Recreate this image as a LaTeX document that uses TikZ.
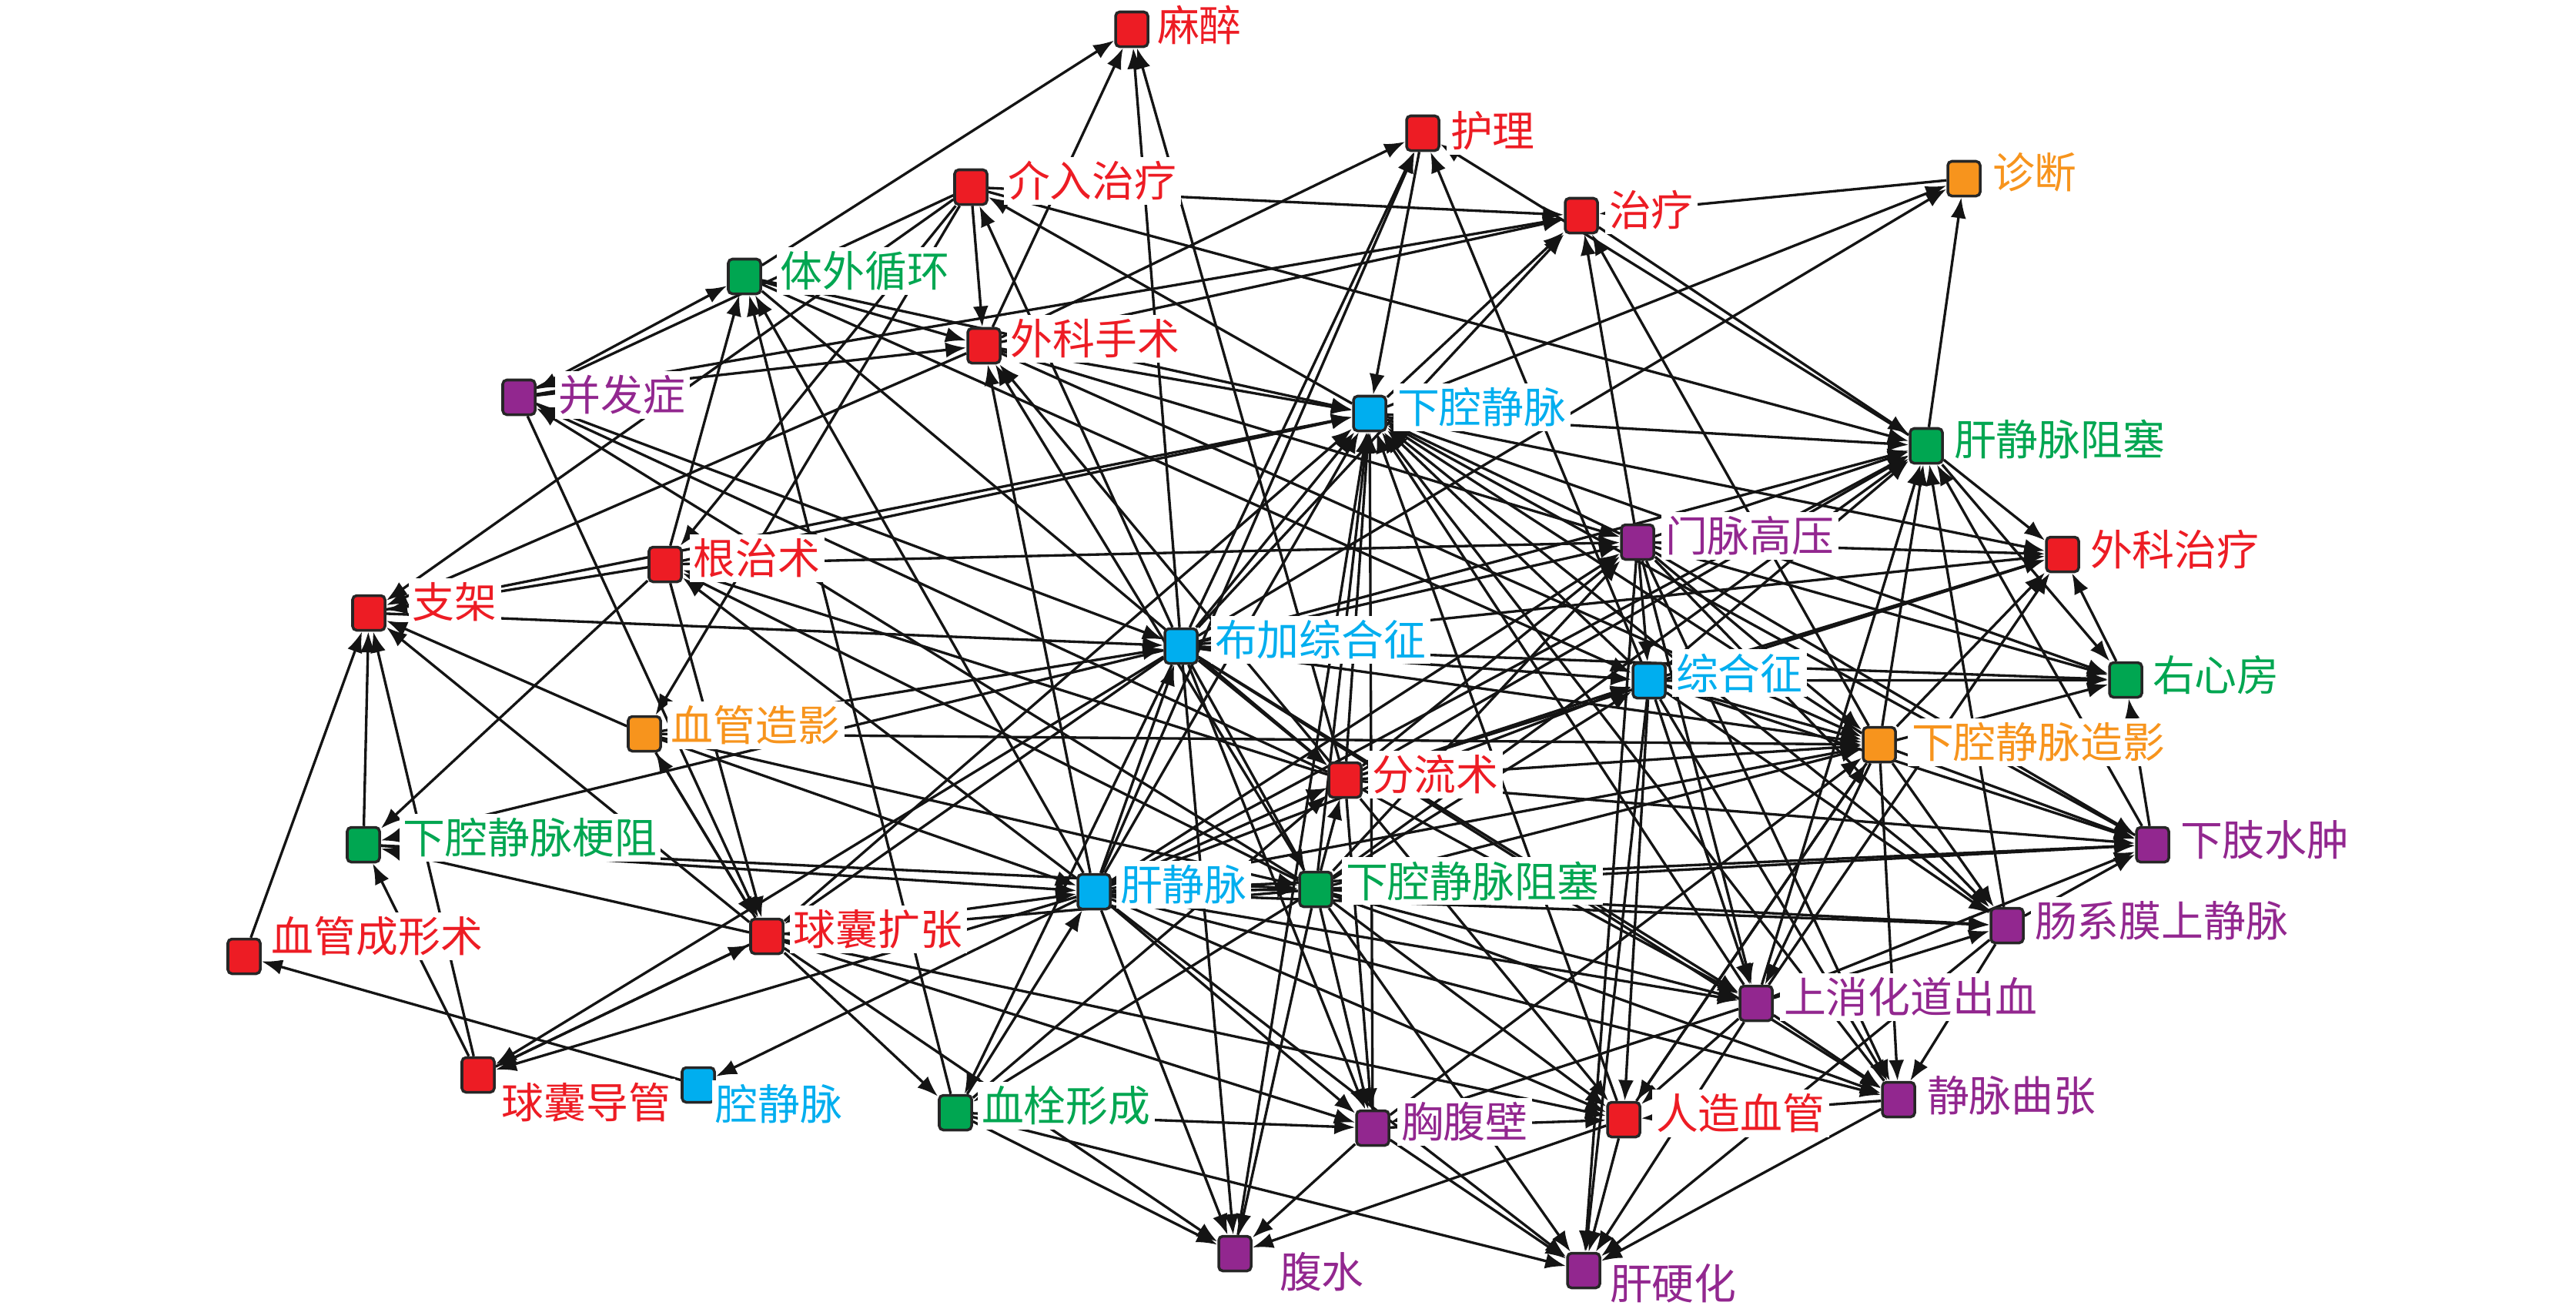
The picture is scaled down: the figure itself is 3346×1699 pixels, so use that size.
\documentclass[tikz,border=0pt]{standalone}
\usepackage{fontspec}
\newfontfamily\cjk{Noto Sans CJK SC}
\usetikzlibrary{arrows.meta}
\pgfdeclarelayer{edgelayer}
\pgfsetlayers{edgelayer,main}
\definecolor{cred}{RGB}{237,28,36}
\definecolor{cgreen}{RGB}{0,166,81}
\definecolor{cblue}{RGB}{0,174,239}
\definecolor{corange}{RGB}{247,148,29}
\definecolor{cpurple}{RGB}{146,39,143}
\newcommand\mkn[7]{%
  \node[box,fill=#4] (#1) at (#2,#3) {};
  \node[lab,text=#4] (#1l) at ({#2+#6-6},{#3+#7}) {#5};}
\begin{document}
\begin{tikzpicture}[x=0.01cm,y=-0.01cm,
  box/.style={draw=black!85,line width=1pt,rounded corners=1.5pt,minimum width=0.42cm,minimum height=0.45cm,inner sep=0pt},
  lab/.style={anchor=west,fill=white,inner sep=1.5pt,font=\cjk\fontsize{15.6}{16}\selectfont},
  edge/.style={line width=0.95pt,black!92,-{Latex[length=2.7mm,width=2mm]}}]
\useasboundingbox (0,0) rectangle (3346,1699);
\mkn{MZ}{1470}{38}{cred}{麻醉}{33}{-5}
\mkn{HL}{1848}{173}{cred}{护理}{36}{-3}
\mkn{JR}{1261}{243}{cred}{介入治疗}{48}{-8}
\mkn{ZL}{2054}{280}{cred}{治疗}{36}{-7}
\mkn{ZD}{2551}{232}{corange}{诊断}{37}{-8}
\mkn{TW}{967}{359}{cgreen}{体外循环}{47}{-7}
\mkn{WS}{1278}{449}{cred}{外科手术}{35}{-9}
\mkn{BF}{674}{516}{cpurple}{并发症}{52}{-3}
\mkn{XQ}{1779}{537}{cblue}{下腔静脉}{36}{-8}
\mkn{GZ}{2502}{579}{cgreen}{肝静脉阻塞}{36}{-9}
\mkn{MM}{2127}{704}{cpurple}{门脉高压}{36}{-8}
\mkn{WZ}{2679}{720}{cred}{外科治疗}{36}{-6}
\mkn{GS}{864}{733}{cred}{根治术}{37}{-8}
\mkn{ZJ}{479}{796}{cred}{支架}{57}{-14}
\mkn{BJ}{1534}{839}{cblue}{布加综合征}{44}{-8}
\mkn{ZH}{2142}{884}{cblue}{综合征}{35}{-10}
\mkn{YX}{2761}{883}{cgreen}{右心房}{35}{-6}
\mkn{XG}{837}{953}{corange}{血管造影}{35}{-11}
\mkn{XZ}{2441}{967}{corange}{下腔静脉造影}{42}{-3}
\mkn{FL}{1747}{1013}{cred}{分流术}{35}{-7}
\mkn{XS}{2796}{1097}{cpurple}{下肢水肿}{36}{-6}
\mkn{GEN}{472}{1097}{cgreen}{下腔静脉梗阻}{52}{-9}
\mkn{GJ}{1421}{1158}{cblue}{肝静脉}{34}{-9}
\mkn{XZS}{1709}{1155}{cgreen}{下腔静脉阻塞}{39}{-11}
\mkn{CX}{2607}{1202}{cpurple}{肠系膜上静脉}{36}{-6}
\mkn{XCX}{317}{1242}{cred}{血管成形术}{36}{-26}
\mkn{QK}{996}{1216}{cred}{球囊扩张}{35}{-9}
\mkn{SX}{2281}{1303}{cpurple}{上消化道出血}{36}{-8}
\mkn{QD}{621}{1396}{cred}{球囊导管}{31}{36}
\mkn{QJ}{907}{1409}{cblue}{腔静脉}{23}{25}
\mkn{XSX}{1241}{1445}{cgreen}{血栓形成}{34}{-9}
\mkn{XF}{1783}{1465}{cpurple}{胸腹壁}{37}{-8}
\mkn{RZ}{2109}{1454}{cred}{人造血管}{42}{-8}
\mkn{JQ}{2466}{1428}{cpurple}{静脉曲张}{37}{-5}
\mkn{FS}{1604}{1628}{cpurple}{腹水}{58}{24}
\mkn{GYH}{2057}{1650}{cpurple}{肝硬化}{34}{17}
\begin{pgfonlayer}{edgelayer}
\foreach \a/\b in {TW/MZ, WS/MZ, BJ/MZ, FL/MZ,
WS/HL, HL/XQ, ZH/HL, GZ/HL, BJ/HL, GJ/HL,
JR/ZL, WS/ZL, BF/ZL, XQ/ZL, BJ/ZL, MM/ZL, ZD/ZL, XZ/ZL, ZL/GZ,
XQ/ZD, BJ/ZD, GZ/ZD,
JR/WS, JR/BF, JR/ZJ, JR/GS, JR/XG, JR/GZ, XQ/JR, BJ/JR,
TW/WS, TW/XQ, BF/TW, GS/TW, GJ/TW, XSX/TW, TW/FL, TW/ZH,
BF/WS, BF/QK, XZS/BF, FL/BF, BF/BJ,
WS/ZJ, WS/XQ, GJ/WS, XZS/WS, FL/WS, WS/MM, WS/XZ,
GS/ZJ, GS/XQ, ZJ/XQ, GS/GEN, GS/MM, GJ/GS, XZS/GS, FL/GS, GS/QK,
XG/ZJ, GEN/ZJ, XCX/ZJ, QD/ZJ, QK/ZJ, ZJ/BJ,
QK/XG, XG/QK, XG/BJ, XG/XZ, XG/GJ, XG/XZS, BJ/GEN,
QD/GEN, QK/GEN, GEN/GJ, GEN/XZS,
QJ/XCX, QD/QK, QK/QD, GJ/QD, BJ/QD, GJ/QJ,
QK/GJ, QK/XSX, QK/XF, QK/RZ, QK/FS, BJ/QK, QK/XQ, XZS/QK,
XSX/FS, XSX/XF, XSX/GYH, XSX/GJ, XZS/XSX, BJ/XSX,
XZS/XF, GJ/XF, XF/XQ, BJ/XF, XF/RZ, XF/GYH, FL/XF, SX/XF,
JQ/RZ, XZS/RZ, GJ/RZ, FL/RZ, SX/RZ, ZH/RZ, XZ/RZ, RZ/GYH, RZ/FS,
JQ/GYH, MM/GYH, ZH/GYH, SX/GYH, XZS/GYH, GJ/GYH, CX/GYH,
GJ/FS, XZS/FS, BJ/FS, XF/FS,
SX/JQ, XZS/JQ, GJ/JQ, MM/JQ, ZH/JQ, XZ/JQ, CX/JQ, BJ/JQ,
MM/SX, ZH/SX, XZS/SX, XZ/SX, BJ/SX, GJ/SX, FL/SX, SX/CX, SX/XS, SX/WZ, SX/GZ,
XZ/CX, ZH/CX, XZS/CX, GJ/CX, MM/CX, CX/XS, CX/GZ,
XZ/XS, ZH/XS, XZS/XS, GJ/XS, MM/XS, FL/XS, XS/YX, XS/GZ,
ZH/YX, XZ/YX, MM/YX, XQ/YX, BJ/YX, GZ/YX,
XQ/WZ, MM/WZ, ZH/WZ, XZ/WZ, GZ/WZ, YX/WZ, FL/WZ, BJ/WZ,
XZ/GZ, ZH/GZ, MM/GZ, FL/GZ, BJ/GZ, XZS/GZ, GJ/GZ, XQ/GZ,
MM/XQ, BJ/MM, FL/MM, XZS/MM, GJ/MM, MM/ZH,
BJ/ZH, ZH/XQ, GJ/ZH, XZS/ZH, FL/ZH, ZH/XZ,
XZ/XQ, BJ/XZ, GJ/XZ, XZS/XZ, FL/XZ, MM/XZ, XF/XZ, RZ/XZ,
BJ/FL, GJ/FL, XZS/FL, FL/XQ, XSX/FL,
GJ/XZS, BJ/XZS, XZS/XQ,
GJ/BJ, GJ/XQ, BJ/XQ,
SX/XQ, XS/XQ, CX/XQ, FS/XQ, RZ/XQ, JQ/XQ}
  \draw[edge] (\a) -- (\b);
\end{pgfonlayer}
\end{tikzpicture}
\end{document}
